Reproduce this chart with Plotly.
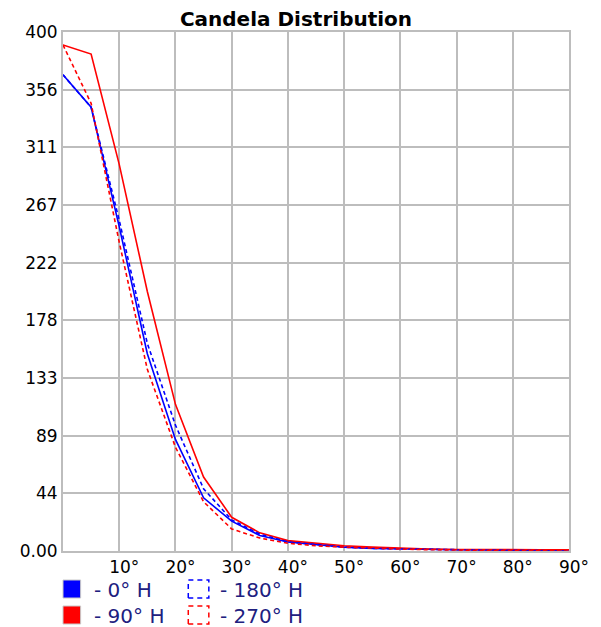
import plotly.graph_objects as go

# ---- data ----
angles = [0, 5, 10, 15, 20, 25, 30, 35, 40, 45, 50, 55, 60, 65, 70, 75, 80, 85, 90]
cd_0H = [367, 342, 250, 152, 86, 41, 23, 12, 7, 5, 3, 2, 1.5, 1, 1, 0.8, 0.5, 0.3, 0]
cd_90H = [390, 383, 298, 200, 113, 57, 26, 14, 8, 6, 4, 3, 2, 1.5, 1.2, 1, 1, 1, 1]
cd_180H = [367, 342, 255, 160, 97, 48, 24, 13, 7, 5, 3, 2, 1.5, 1, 1, 0.8, 0.5, 0.3, 0]
cd_270H = [390, 345, 238, 140, 80, 38, 17, 10, 6, 4, 3, 2, 1.5, 1, 1, 0.5, 0.3, 0.2, 0]

series_names = ["0° H", "90° H", "180° H", "270° H"]
series_values = [cd_0H, cd_90H, cd_180H, cd_270H]
series_colors = ["#0000ff", "#ff0000", "#0000ff", "#ff0000"]
series_dashed = [False, False, True, True]

y_tickvals = [k * 400 / 9 for k in range(10)]
y_ticktext = ["0.00", "44", "89", "133", "178", "222", "267", "311", "356", "400"]
x_tickvals = [10, 20, 30, 40, 50, 60, 70, 80, 90]
x_ticktext = ["10°", "20°", "30°", "40°", "50°", "60°", "70°", "80°", "90°"]

# page body has an 8px margin, so the figure is 8px smaller and everything is shifted by 8px
OFF = 8
W, H = 601 - OFF, 627 - OFF
L, R, T, B = 56 - OFF, 28, 32 - OFF, 76
plot_w = W - L - R
plot_h = H - T - B

fig = go.Figure()
for name, vals, col, dashed in zip(series_names, series_values, series_colors, series_dashed):
    fig.add_trace(go.Scatter(
        x=angles, y=vals, mode="lines", name=name,
        line=dict(color=col, width=1.6, dash="4px,3px" if dashed else "solid"),
        showlegend=False,
    ))

grid_col = "#bdbdbd"
fig.update_xaxes(range=[0, 90], tickvals=x_tickvals, ticktext=x_ticktext,
                 showgrid=True, gridcolor=grid_col, gridwidth=2,
                 showline=True, linecolor=grid_col, linewidth=2, mirror=True,
                 zeroline=False, ticks="", ticklabelshift=5,
                 tickfont=dict(family="DejaVu Sans", size=17, color="#000000"))
fig.update_yaxes(range=[0, 400], tickvals=y_tickvals, ticktext=y_ticktext,
                 showgrid=True, gridcolor=grid_col, gridwidth=2,
                 showline=True, linecolor=grid_col, linewidth=2, mirror=True,
                 zeroline=False, ticks="",
                 tickfont=dict(family="DejaVu Sans", size=17, color="#000000"))

def px_x(px):
    # px in page pixels
    return (px - OFF - L) / plot_w

def px_y(py):
    return (H - B - (py - OFF)) / plot_h

# ---- legend (drawn below the plot) ----
legend_text_col = "#20207f"
col_icon_x = [56, 184]
col_text_x = [86, 214]
row_center_y = [589, 615]
shapes = []
annotations = []
for i, (name, col, dashed) in enumerate(zip(series_names, series_colors, series_dashed)):
    c = i // 2
    r = i % 2
    cy = row_center_y[r]
    if dashed:
        x0, x1 = col_icon_x[c], col_icon_x[c] + 21
        shapes.append(dict(type="rect", xref="paper", yref="paper",
                           x0=px_x(x0), x1=px_x(x1), y0=px_y(cy + 9), y1=px_y(cy - 9),
                           line=dict(color=col, width=1.5, dash="5px,4px"),
                           fillcolor="rgba(0,0,0,0)"))
    else:
        x0, x1 = col_icon_x[c], col_icon_x[c] + 18
        shapes.append(dict(type="rect", xref="paper", yref="paper",
                           x0=px_x(x0), x1=px_x(x1), y0=px_y(cy + 9), y1=px_y(cy - 9),
                           line=dict(color="#c8c8c8", width=1),
                           fillcolor=col))
    annotations.append(dict(text="- " + name, xref="paper", yref="paper",
                            x=px_x(col_text_x[c]), y=px_y(cy + 1),
                            xanchor="left", yanchor="middle", showarrow=False,
                            font=dict(family="DejaVu Sans", size=20, color=legend_text_col)))

fig.update_layout(
    width=W, height=H,
    margin=dict(l=L, r=R, t=T, b=B),
    paper_bgcolor="white", plot_bgcolor="white",
    title=dict(text="<b>Candela Distribution</b>", xref="container", yref="container",
               x=(296 - OFF) / W, y=1 - (19 - OFF) / H, xanchor="center", yanchor="middle",
               font=dict(family="DejaVu Sans", size=20, color="#000000")),
    shapes=shapes, annotations=annotations,
    showlegend=False,
)

fig.write_html("out.html")
